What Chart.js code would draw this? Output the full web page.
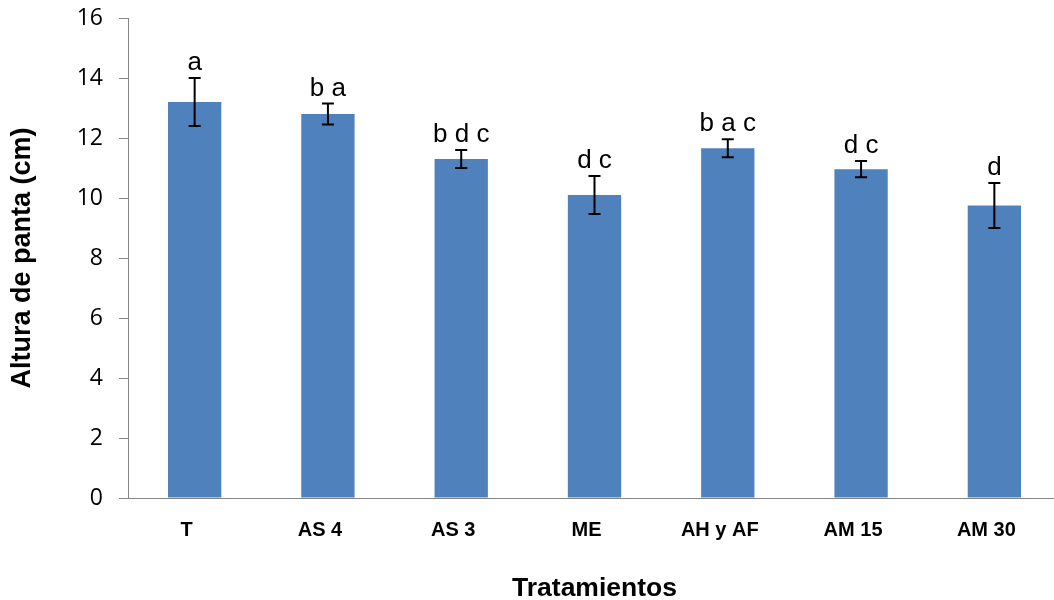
<!DOCTYPE html>
<html>
<head>
<meta charset="utf-8">
<script src="https://cdn.jsdelivr.net/npm/chart.js@4/dist/chart.umd.min.js"></script>
<style>
  html, body { margin: 0; padding: 0; background: #fff; overflow: hidden; }
  #wrap { width: 1061px; height: 600px; position: relative; }
</style>
</head>
<body>
<div id="wrap"><canvas id="chart"></canvas></div>
<script>
// Plant height by treatment (cm), with standard error and significance groups
const categories = ['T', 'AS 4', 'AS 3', 'ME', 'AH y AF', 'AM 15', 'AM 30'];
const means  = [13.2, 12.8, 11.3, 10.1, 11.66, 10.96, 9.75];
const errors = [0.8, 0.35, 0.3, 0.63, 0.3, 0.27, 0.75];
const groups = ['a', 'b a', 'b d c', 'd c', 'b a c', 'd c', 'd'];
const yTicks = [0, 2, 4, 6, 8, 10, 12, 14, 16];

// Draws error bars and the group letters above them
const errorBarPlugin = {
  id: 'errorBars',
  afterDatasetsDraw(chart) {
    const ctx = chart.ctx;
    const y = chart.scales.y;
    const meta = chart.getDatasetMeta(0);
    ctx.save();
    ctx.strokeStyle = '#000';
    ctx.lineWidth = 2;
    meta.data.forEach((bar, i) => {
      const x = bar.x;
      const top = y.getPixelForValue(means[i] + errors[i]);
      const bot = y.getPixelForValue(means[i] - errors[i]);
      const cap = 6;
      ctx.beginPath();
      ctx.moveTo(x, top); ctx.lineTo(x, bot);
      ctx.moveTo(x - cap, top); ctx.lineTo(x + cap, top);
      ctx.moveTo(x - cap, bot); ctx.lineTo(x + cap, bot);
      ctx.stroke();
      ctx.fillStyle = '#000';
      ctx.font = '26px "Liberation Sans", Arial, sans-serif';
      ctx.textAlign = 'center';
      ctx.textBaseline = 'alphabetic';
      ctx.fillText(groups[i], x, top - 8);
    });
    ctx.restore();
  }
};

new Chart(document.getElementById('chart'), {
  type: 'bar',
  data: {
    labels: categories,
    datasets: [{
      data: means,
      backgroundColor: '#4f81bd',
      borderWidth: 0,
      barPercentage: 0.4,
      categoryPercentage: 1.0
    }]
  },
  options: {
    responsive: true,
    maintainAspectRatio: false,
    animation: false,
    devicePixelRatio: 1,
    layout: { padding: { top: 18, left: 0, right: 0, bottom: 0 } },
    plugins: { legend: { display: false }, tooltip: { enabled: false } },
    scales: {
      x: {
        grid: { display: true, drawOnChartArea: false, drawTicks: false },
        border: { display: true, color: '#868686', width: 1 },
        ticks: {
          color: '#000',
          padding: 20,
          labelOffset: -8,
          maxRotation: 0,
          font: { family: '"Liberation Sans", Arial, sans-serif', size: 20, weight: 'bold' }
        },
        title: {
          display: true,
          text: 'Tratamientos',
          color: '#000',
          padding: { top: 0, bottom: 0 },
          font: { family: '"Liberation Sans", Arial, sans-serif', size: 26.5, weight: 'bold', lineHeight: '22px' }
        },
        afterFit(scale) {
          scale.height = 102;
          scale.paddingLeft = 0;
          scale.paddingRight = 0;
        }
      },
      y: {
        min: 0,
        max: 16,
        afterBuildTicks(scale) { scale.ticks = yTicks.map(v => ({ value: v })); },
        grid: { drawOnChartArea: false, drawTicks: true, tickLength: 9, color: '#868686' },
        border: { display: true, color: '#868686', width: 1 },
        ticks: {
          color: '#000',
          padding: 16,
          font: { family: '"Open Sans", sans-serif', size: 23 }
        },
        title: {
          display: true,
          text: 'Altura de panta (cm)',
          color: '#000',
          padding: { top: 10, bottom: 0 },
          font: { family: '"Liberation Sans", Arial, sans-serif', size: 27, weight: 'bold', lineHeight: '26px' }
        },
        afterFit(scale) {
          scale.width = 128;
          scale.paddingTop = 0;
          scale.paddingBottom = 0;
        }
      }
    }
  },
  plugins: [errorBarPlugin]
});
</script>
</body>
</html>
